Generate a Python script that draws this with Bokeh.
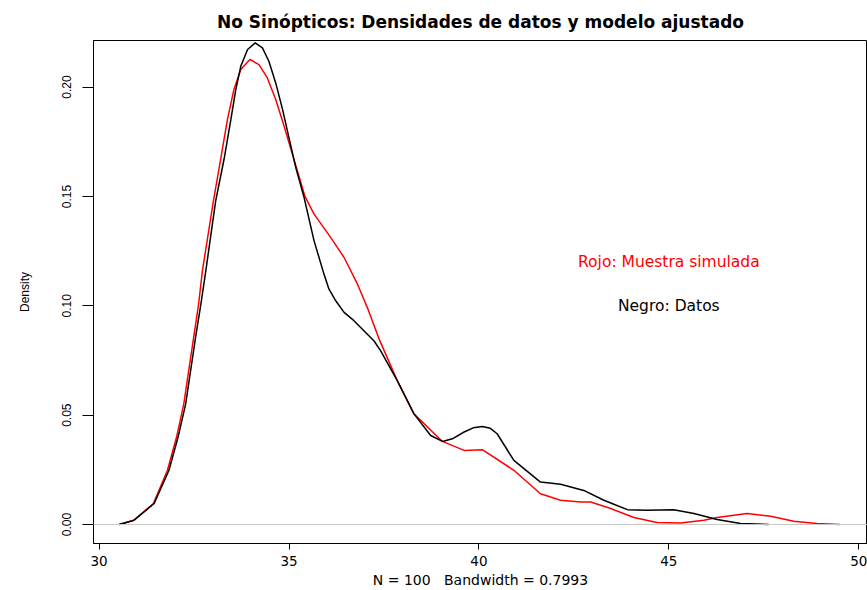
from bokeh.plotting import figure
from bokeh.models import Range1d, FixedTicker, Span, Label
from bokeh.embed import file_html
from bokeh.resources import INLINE

# Kernel density estimate of the observed data (N = 100, bw = 0.7993)
datos_x = [30.53, 30.92, 31.45, 31.84, 32.08, 32.28, 32.41, 32.54, 32.68, 32.81,
           33.07, 33.29, 33.47, 33.60, 33.73, 33.91, 34.11, 34.30, 34.47, 34.65,
           34.83, 35.00, 35.18, 35.39, 35.66, 35.92, 36.05, 36.23, 36.45, 36.71,
           37.24, 37.41, 37.85, 38.29, 38.73, 39.04, 39.30, 39.61, 39.85, 40.09,
           40.30, 40.48, 40.92, 41.62, 42.15, 42.76, 43.29, 43.91, 44.43, 45.13,
           45.66, 46.27, 46.89, 47.63]
datos_y = [0.0, 0.0020, 0.0096, 0.0248, 0.0400, 0.0552, 0.0704, 0.0856, 0.1008, 0.1160,
           0.1480, 0.1670, 0.1852, 0.1989, 0.2095, 0.2172, 0.2202, 0.2179, 0.2118, 0.2019,
           0.1898, 0.1768, 0.1631, 0.1500, 0.1297, 0.1145, 0.1077, 0.1023, 0.0970, 0.0932,
           0.0839, 0.0795, 0.0658, 0.0506, 0.0407, 0.0380, 0.0392, 0.0423, 0.0442, 0.0448,
           0.0440, 0.0415, 0.0293, 0.0194, 0.0184, 0.0156, 0.0111, 0.0068, 0.0065, 0.0068,
           0.0050, 0.0023, 0.0005, 0.0]

# Density of a sample simulated from the fitted model
simulada_x = [30.53, 30.92, 31.43, 31.80, 32.04, 32.23, 32.36, 32.49, 32.62, 32.72,
              33.01, 33.20, 33.38, 33.55, 33.73, 33.97, 34.21, 34.43, 34.65, 34.87,
              35.09, 35.26, 35.42, 35.66, 36.10, 36.45, 36.80, 37.06, 37.37, 37.85,
              38.29, 39.04, 39.61, 40.09, 40.92, 41.62, 42.15, 42.68, 42.94, 43.47,
              44.08, 44.69, 45.31, 45.92, 46.27, 47.06, 47.68, 48.29, 48.90, 49.50]
simulada_y = [0.0, 0.0020, 0.0096, 0.0248, 0.0400, 0.0552, 0.0704, 0.0856, 0.1008, 0.1160,
              0.1480, 0.1670, 0.1852, 0.1989, 0.2080, 0.2126, 0.2103, 0.2042, 0.1943, 0.1822,
              0.1693, 0.1594, 0.1500, 0.1419, 0.1312, 0.1221, 0.1100, 0.0993, 0.0849, 0.0658,
              0.0506, 0.0380, 0.0339, 0.0342, 0.0248, 0.0141, 0.0111, 0.0103, 0.0103, 0.0073,
              0.0032, 0.0009, 0.0007, 0.0020, 0.0032, 0.0050, 0.0038, 0.0015, 0.0005, 0.0]

x_ticks = [30, 35, 40, 45, 50]
y_ticks = [0.0, 0.05, 0.10, 0.15, 0.20]
y_tick_labels = ["0.00", "0.05", "0.10", "0.15", "0.20"]

titulo = "No Sinópticos: Densidades de datos y modelo ajustado"
etiqueta_x = "N = 100\u00a0\u00a0\u00a0Bandwidth = 0.7993"
etiqueta_y = "Density"
texto_rojo = "Rojo: Muestra simulada"
texto_negro = "Negro: Datos"

p = figure(width=867, height=590, output_backend="svg", toolbar_location=None,
           x_range=Range1d(29.853, 50.23), y_range=Range1d(-0.00867, 0.2213),
           min_border_left=93, min_border_right=0, min_border_top=39,
           min_border_bottom=47, background_fill_color="white",
           border_fill_color="white")

p.title.text = titulo
p.title.align = "center"
p.title.text_font = "DejaVu Sans"
p.title.text_font_style = "bold"
p.title.text_font_size = "17px"
p.title.text_color = "black"
p.title.standoff = 18

p.xgrid.visible = False
p.ygrid.visible = False
p.outline_line_color = "black"
p.outline_line_width = 1

# x axis
xa = p.xaxis[0]
xa.ticker = FixedTicker(ticks=x_ticks)
xa.axis_label = etiqueta_x
xa.axis_label_text_font = "DejaVu Sans"
xa.axis_label_text_font_style = "normal"
xa.axis_label_text_font_size = "14px"
xa.axis_label_text_color = "black"
xa.axis_label_standoff = 3
xa.major_label_text_font = "DejaVu Sans"
xa.major_label_text_font_size = "13.5px"
xa.major_label_text_color = "black"
xa.major_label_standoff = 6
xa.major_tick_out = 6
xa.major_tick_in = 0
xa.minor_tick_out = 0
xa.minor_tick_in = 0
xa.axis_line_color = "black"
xa.major_tick_line_color = "black"

# y axis
ya = p.yaxis[0]
ya.ticker = FixedTicker(ticks=y_ticks)
ya.major_label_overrides = {t: s for t, s in zip(y_ticks, y_tick_labels)}
ya.major_label_orientation = "vertical"
ya.major_label_text_font = "Liberation Sans"
ya.major_label_text_font_size = "12px"
ya.major_label_text_color = "black"
ya.major_label_standoff = 11
ya.axis_label = etiqueta_y
ya.axis_label_text_font = "Liberation Sans"
ya.axis_label_text_font_style = "normal"
ya.axis_label_text_font_size = "12px"
ya.axis_label_text_color = "black"
ya.axis_label_standoff = 28
ya.major_tick_out = 11
ya.major_tick_in = 0
ya.minor_tick_out = 0
ya.minor_tick_in = 0
ya.axis_line_color = "black"
ya.major_tick_line_color = "black"

# zero reference line
p.add_layout(Span(location=0, dimension="width", line_color="#c8c8c8", line_width=1))

p.line(simulada_x, simulada_y, line_color="red", line_width=1.5)
p.line(datos_x, datos_y, line_color="black", line_width=1.5)

p.add_layout(Label(x=45, y=0.12, text=texto_rojo, text_color="red",
                   text_font="DejaVu Sans", text_font_size="15.5px",
                   text_align="center", text_baseline="middle"))
p.add_layout(Label(x=45, y=0.10, text=texto_negro, text_color="black",
                   text_font="DejaVu Sans", text_font_size="15.5px",
                   text_align="center", text_baseline="middle"))

open("out.html", "w").write(file_html(p, INLINE))
